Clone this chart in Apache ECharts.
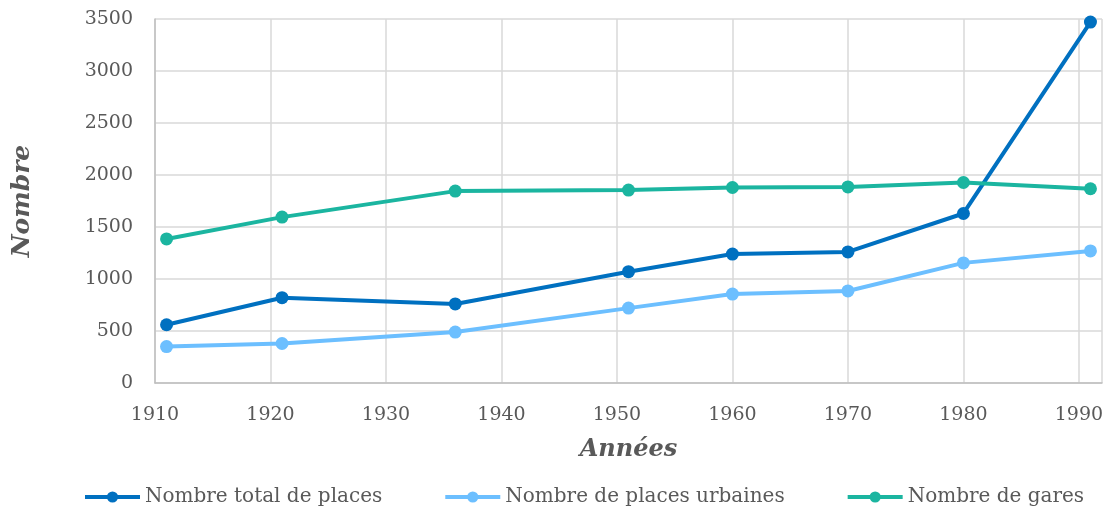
<!DOCTYPE html>
<html>
<head>
<meta charset="utf-8">
<script src="https://cdn.jsdelivr.net/npm/echarts@6/dist/echarts.min.js"></script>
<style>
  html, body { margin: 0; padding: 0; background: #fff; }
  #chart { width: 1110px; height: 509px; }
</style>
</head>
<body>
<div id="chart"></div>
<script>
// années des relevés
const years = [1911, 1921, 1936, 1951, 1960, 1970, 1980, 1991]
const totalPlaces = [560, 820, 760, 1070, 1240, 1260, 1630, 3470]
const urbanPlaces = [350, 380, 490, 720, 855, 885, 1155, 1270]
const gares = [1385, 1595, 1845, 1855, 1880, 1885, 1928, 1868]

const font = 'DejaVu Serif'
const textColor = '#595959'

function pairs (vals) {
  return years.map((y, i) => [y, vals[i]])
}

function lineSeries (name, vals, color) {
  return {
    name: name,
    type: 'line',
    data: pairs(vals),
    symbol: 'circle',
    symbolSize: 13,
    lineStyle: { width: 4, color: color },
    itemStyle: { color: color },
    emphasis: { disabled: true }
  }
}

const myChart = echarts.init(document.getElementById('chart'))
const opt = {
  animation: false,
  textStyle: { fontFamily: font },
  grid: {
    left: 155,
    right: 8,
    top: 19,
    bottom: 126
  },
  legend: {
    top: 482,
    left: 78,
    itemWidth: 55,
    itemHeight: 14,
    itemGap: 61,
    lineStyle: { width: 4 },
    textStyle: { fontFamily: font, fontSize: 20, color: textColor }
  },
  xAxis: {
    type: 'value',
    min: 1910,
    max: 1992,
    interval: 10,
    name: 'Années',
    nameLocation: 'middle',
    nameGap: 55,
    nameTextStyle: { fontFamily: font, fontSize: 24, fontWeight: 'bold', fontStyle: 'italic', color: textColor },
    axisLine: { lineStyle: { color: '#bfbfbf', width: 1.5 } },
    axisTick: { show: false },
    axisLabel: {
      fontSize: 19,
      color: textColor,
      margin: 23,
      showMaxLabel: false,
      formatter: v => (v % 10 === 0 ? String(v) : '')
    },
    splitLine: { show: true, lineStyle: { color: '#d9d9d9', width: 1.5 } }
  },
  yAxis: {
    type: 'value',
    min: 0,
    max: 3500,
    interval: 500,
    name: 'Nombre',
    nameLocation: 'middle',
    nameRotate: 90,
    nameGap: 120,
    nameTextStyle: { fontFamily: font, fontSize: 25, fontWeight: 'bold', fontStyle: 'italic', color: textColor },
    axisLine: { show: true, lineStyle: { color: '#bfbfbf', width: 1.5 } },
    axisTick: { show: false },
    axisLabel: { fontSize: 19, color: textColor, margin: 22, formatter: v => String(v) },
    splitLine: { show: true, lineStyle: { color: '#d9d9d9', width: 1.5 } }
  },
  series: [
    lineSeries('Nombre total de places', totalPlaces, '#0070c0'),
    lineSeries('Nombre de places urbaines', urbanPlaces, '#6cbfff'),
    lineSeries('Nombre de gares', gares, '#1bb5a0')
  ]
}
myChart.setOption(opt, true)
window.addEventListener('resize', () => myChart.resize())
</script>
</body>
</html>
